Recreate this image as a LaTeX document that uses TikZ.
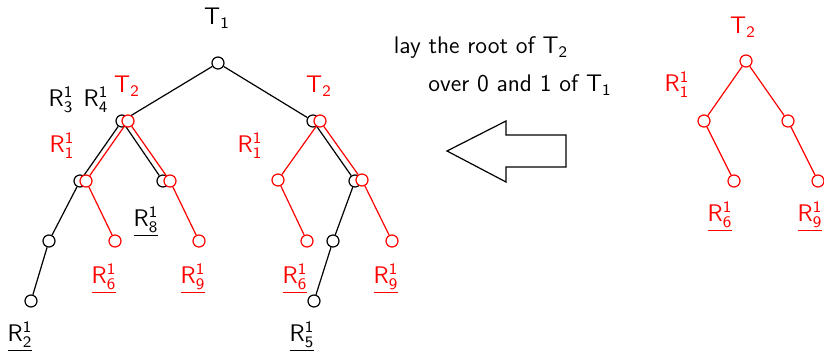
\documentclass[tikz,border=0pt]{standalone}
\begin{document}
\newcommand\Rsub[2]{$\mathsf{R}^{\mathsf{#1}}_{\mathsf{#2}}$}
\newcommand\Tsub[1]{$\mathsf{T}_{\mathsf{#1}}$}
\begin{tikzpicture}[x=0.5pt,y=-0.5pt,
  bn/.style={circle,draw=black,fill=white,minimum size=6pt,inner sep=0pt,line width=0.6pt},
  rn/.style={bn,draw=red},
  bl/.style={draw=black,line width=0.6pt},
  rl/.style={draw=red,line width=0.6pt},
  lab/.style={font=\sffamily\fontsize{12}{14}\selectfont,inner sep=0pt},
  rlab/.style={lab,text=red}]
\useasboundingbox (0,0) rectangle (824,352);
% black tree T1
\node[bn] (a) at (218,63) {};
\node[bn] (b) at (122,121) {};
\node[bn] (c) at (313,121) {};
\node[bn] (d) at (80,181) {};
\node[bn] (e) at (163,181) {};
\node[bn] (f) at (49,241) {};
\node[bn] (g) at (31,301) {};
\node[bn] (h) at (355,181) {};
\node[bn] (i) at (333,241) {};
\node[bn] (j) at (314,301) {};
\draw[bl] (a) -- (b) (a) -- (c) (b) -- (d) (b) -- (e) (d) -- (f) -- (g)
  (c) -- (h) -- (i) -- (j);
% red copies
\node[rn] (p) at (128,121) {};
\node[rn] (pl) at (86,181) {};
\node[rn] (pll) at (115,241) {};
\node[rn] (pr) at (170,181) {};
\node[rn] (prr) at (199,241) {};
\draw[rl] (p) -- (pl) -- (pll) (p) -- (pr) -- (prr);
\node[rn] (q) at (320,121) {};
\node[rn] (ql) at (278,180) {};
\node[rn] (qll) at (307,241) {};
\node[rn] (qr) at (362,180) {};
\node[rn] (qrr) at (392,241) {};
\draw[rl] (q) -- (ql) -- (qll) (q) -- (qr) -- (qrr);
% right tree T2
\node[rn] (t) at (746,61) {};
\node[rn] (tl) at (704,121) {};
\node[rn] (tll) at (734,181) {};
\node[rn] (tr) at (788,121) {};
\node[rn] (trr) at (818,181) {};
\draw[rl] (t) -- (tl) -- (tll) (t) -- (tr) -- (trr);
% labels
\node[lab] (lT1) at (217,18) {\Tsub{1}};
\node[rlab] (lTa) at (127,86) {\Tsub{2}};
\node[rlab] (lTb) at (319,86) {\Tsub{2}};
\node[rlab] (lTc) at (743,27) {\Tsub{2}};
\node[lab] (lR3) at (61,100) {\Rsub{1}{3}};
\node[lab] (lR4) at (96,100) {\Rsub{1}{4}};
\node[rlab] (lR1a) at (62,146) {\Rsub{1}{1}};
\node[rlab] (lR1b) at (250,146) {\Rsub{1}{1}};
\node[rlab] (lR1c) at (677,85) {\Rsub{1}{1}};
\node[lab] (lR8) at (146,222) {\underline{\Rsub{1}{8}}};
\node[rlab] (lR6a) at (104,279) {\underline{\Rsub{1}{6}}};
\node[rlab] (lR9a) at (193,279) {\underline{\Rsub{1}{9}}};
\node[rlab] (lR6b) at (295,279) {\underline{\Rsub{1}{6}}};
\node[rlab] (lR9b) at (386,279) {\underline{\Rsub{1}{9}}};
\node[rlab] (lR6c) at (720,217) {\underline{\Rsub{1}{6}}};
\node[rlab] (lR9c) at (810,217) {\underline{\Rsub{1}{9}}};
\node[lab] (lR2) at (20,337) {\underline{\Rsub{1}{2}}};
\node[lab] (lR5) at (302,337) {\underline{\Rsub{1}{5}}};
\node[lab] (txt1) at (481,48) {lay the root of \Tsub{2}};
\node[lab] (txt2) at (520,85) {over 0 and 1 of \Tsub{1}};
% big arrow
\draw[bl] (447,151) -- (506,121) -- (506,135) -- (566,135) -- (566,167)
  -- (506,167) -- (506,182) -- cycle;
\end{tikzpicture}
\end{document}
